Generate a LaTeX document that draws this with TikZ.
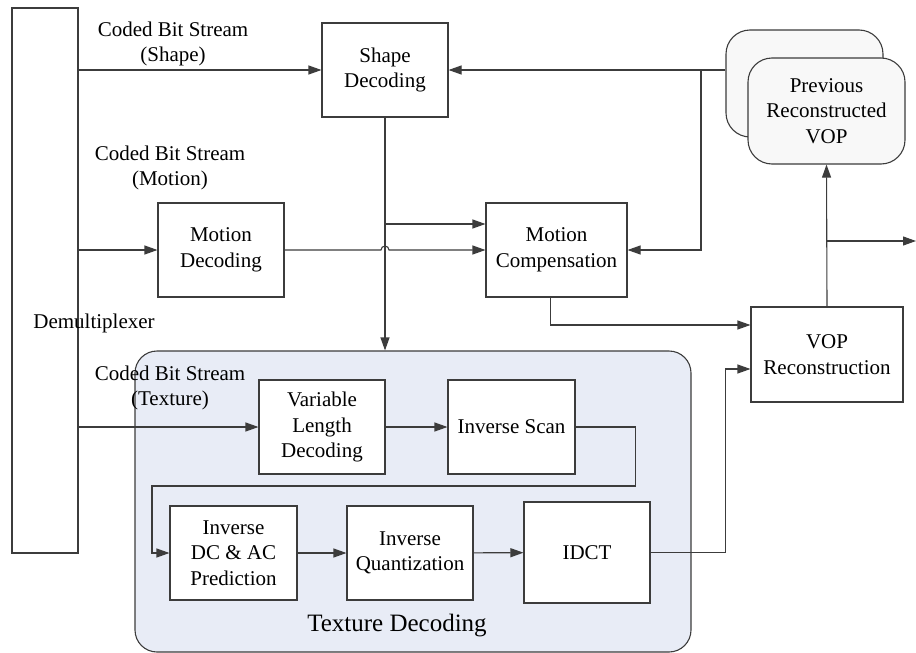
\documentclass[tikz,border=0pt]{standalone}
\usepackage{fontspec}
\setmainfont{Liberation Serif}
\usetikzlibrary{arrows.meta,calc}
\definecolor{linegray}{RGB}{60,60,60}
\definecolor{texfill}{RGB}{232,236,246}
\definecolor{cardfill}{RGB}{248,248,248}
\begin{document}
\begin{tikzpicture}[x=1pt,y=-1pt,
  line/.style={draw=linegray, line width=1.1pt},
  arr/.style={line, -{Triangle[length=13pt,width=9pt]}},
  txt/.style={inner sep=0pt, align=center, font=\fontsize{21}{25.5}\selectfont},
  blockbox/.style n args={2}{line, fill=white, txt, minimum width=#1pt, minimum height=#2pt},
  card/.style n args={2}{line, fill=cardfill, rounded corners=24pt, txt, minimum width=#1pt, minimum height=#2pt},
  region/.style n args={2}{line, fill=texfill, rounded corners=22pt, minimum width=#1pt, minimum height=#2pt}
]
\useasboundingbox (0,0) rectangle (916,653);

% texture decoding group
\node[region={556}{301}] (tex) at (413,501.5) {};
\node[txt, font=\fontsize{25}{30}\selectfont] (texlabel) at (397,626) {Texture Decoding};

% demultiplexer
\node[line, minimum width=66pt, minimum height=545pt, inner sep=0pt] (demux) at (45,280.5) {};
\node[txt] (demuxlabel) at (94,323) {Demultiplexer};

% blocks
\node[blockbox={126}{94}] (shd) at (385,70) {Shape\\Decoding};
\node[blockbox={126}{94}] (md) at (221,250) {Motion\\Decoding};
\node[blockbox={141}{94}] (mc) at (556.5,250) {Motion\\Compensation};
\node[card={157}{107}] (pb) at (804.5,83.5) {};
\node[card={157}{106}] (pf) at (826.5,111) {Previous\\Reconstructed\\VOP};
\node[blockbox={152}{95}] (vr) at (827,354.5) {VOP\\Reconstruction};
\node[blockbox={126}{94}] (vld) at (322,427) {Variable\\Length\\Decoding};
\node[blockbox={127}{94}] (is) at (511.5,427) {Inverse Scan};
\node[blockbox={127}{94}] (idc) at (233.5,553) {Inverse\\DC \& AC\\Prediction};
\node[blockbox={126}{94}] (iq) at (410,553) {Inverse\\Quantization};
\node[blockbox={126}{101}] (idct) at (587,552.5) {IDCT};

% stream labels
\node[txt] (lshape) at (173,44) {Coded Bit Stream\\(Shape)};
\node[txt] (lmotion) at (170,168) {Coded Bit Stream\\(Motion)};
\node[txt] (ltexture) at (170,388) {Coded Bit Stream\\(Texture)};

% junctions
\coordinate (jprev) at (701,70);
\coordinate (jshape) at (385,224);
\coordinate (hop) at (shd.south |- md.east);
\coordinate (jout) at (827,241);
\coordinate (outend) at (916,241);

% demultiplexer outputs
\draw[arr] (demux.east |- shd.west) -- (shd.west);
\draw[arr] (demux.east |- md.west) -- (md.west);
\draw[arr] (demux.east |- vld.west) -- (vld.west);

% shape path
\draw[arr] (shd.south) -- (shd.south |- tex.north);
\draw[arr] (jshape) -- (jshape -| mc.west);

% motion path with a hop over the shape line
\draw[arr] (md.east) -- ([xshift=-4pt]hop) arc[start angle=180, end angle=0, radius=4pt] -- (mc.west);

% reference frame feedback
\draw[arr] (pb.west |- shd.east) -- (shd.east);
\draw[arr] (jprev) |- (mc.east);

% reconstruction
\draw[arr] ([xshift=-6pt]mc.south) |- ([yshift=29.5pt]vr.west);
\draw[arr] (idct.east) -| ([xshift=-25pt,yshift=-14.5pt]vr.west) -- ([yshift=-14.5pt]vr.west);
\draw[arr] (vr.north) -- (pf.south);
\draw[arr] (jout) -- (outend);

% texture chain
\draw[arr] (vld) -- (is);
\draw[arr] (is.east) -- ++(60,0) |- (152,486) |- (idc.west);
\draw[arr] (idc) -- (iq);
\draw[arr] (iq) -- (idct);
\end{tikzpicture}
\end{document}
